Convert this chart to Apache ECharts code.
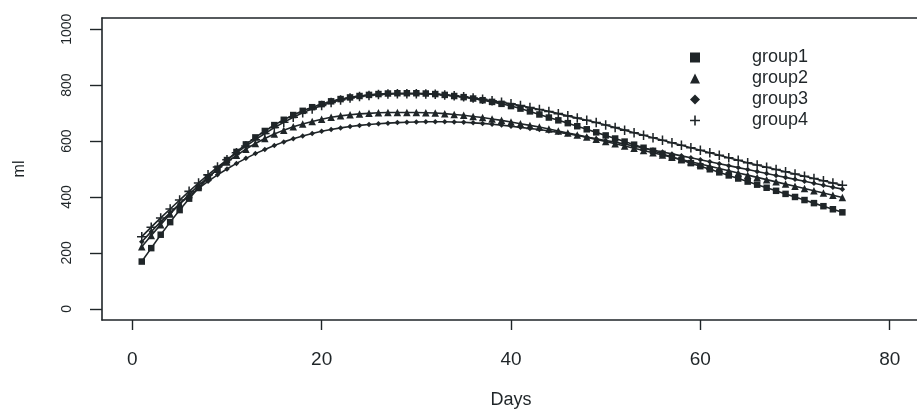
<!DOCTYPE html>
<html>
<head>
<meta charset="utf-8">
<script src="https://cdn.jsdelivr.net/npm/echarts@6/dist/echarts.min.js"></script>
<style>
html,body{margin:0;padding:0;background:#fff;}
#chart{width:917px;height:410px;}
</style>
</head>
<body>
<div id="chart"></div>
<script>
// ---- data ----
var days = [];
for (var d = 1; d <= 75; d++) days.push(d);
var group1 = [169,217,265,310,353,394,432,468,501,532,561,588,613,636,657,676,693,708,721,732,742,750,756,761,765,768,770,771,771,771,770,768,765,761,757,752,746,740,733,725,716,706,695,684,674,664,653,642,631,620,609,598,587,576,565,554,543,532,521,510,499,488,477,466,455,444,433,422,411,400,389,378,367,356,345];
var group2 = [222,262,301,339,375,409,441,471,499,525,549,571,591,609,625,639,651,661,670,678,685,690,694,697,699,701,702,702,702,702,701,700,698,695,692,688,684,679,674,668,662,656,650,643,636,629,622,614,606,598,590,582,574,566,558,550,542,534,526,518,510,502,494,486,478,470,462,454,446,438,430,422,414,406,398];
var group3 = [240,276,311,344,375,404,431,456,479,500,520,538,555,570,584,597,608,618,627,635,641,647,652,656,659,662,664,666,667,668,669,669,669,668,667,665,663,660,657,653,649,645,641,636,631,626,620,614,608,602,596,589,582,575,568,561,554,547,540,533,526,519,512,505,498,491,484,477,470,463,456,449,442,435,428];
var group4 = [258,292,325,357,389,420,450,479,507,533,558,582,605,627,648,667,685,701,715,727,738,747,754,759,763,766,768,769,769,769,768,767,765,762,758,754,749,744,739,733,727,720,713,706,698,690,682,674,666,657,648,639,630,621,612,603,594,585,576,567,558,549,540,531,522,514,506,498,490,482,474,466,458,450,442];
var groupNames = ['group1','group2','group3','group4'];
var xTicks = [0,20,40,60,80];
var yTicks = [0,200,400,600,800,1000];

var ink = '#1f2528';
var plusPath = 'path://M4.2,0H5.8V4.2H10V5.8H5.8V10H4.2V5.8H0V4.2H4.2Z';
var symbols = ['rect','triangle','diamond', plusPath];
var sizes = [6.5,7.5,5.5,9.5];
var values = [group1, group2, group3, group4];

function pairs(vals){ return days.map(function(x,i){ return [x, vals[i]]; }); }

var series = groupNames.map(function(n, i){
  return {
    name: n, type: 'line',
    xAxisIndex: 0, yAxisIndex: 0,
    data: pairs(values[i]),
    symbol: symbols[i], symbolSize: sizes[i],
    showSymbol: true,
    lineStyle: {color: ink, width: 1.6},
    itemStyle: {color: ink},
    z: 2 + i
  };
});

var chart = echarts.init(document.getElementById('chart'), null, {renderer:'canvas'});
chart.setOption({
  animation: false,
  backgroundColor: '#fff',
  grid: {left: 102, width: 818, top: 18, bottom: 90, outerBoundsMode: 'none', containLabel: false, show: false},
  xAxis: [{
    type: 'value', min: -3.2, max: 83.2, position: 'bottom',
    name: 'Days', nameLocation: 'middle', nameGap: 71,
    nameTextStyle: {fontFamily: 'Liberation Sans', fontSize: 18, color: ink},
    axisLine: {show: true, onZero: false, lineStyle: {color: ink, width: 1.6}},
    splitLine: {show: false},
    axisTick: {show: true, inside: false, length: 10, customValues: xTicks, lineStyle: {color: ink, width: 1.4}},
    axisLabel: {customValues: xTicks, margin: 30, fontFamily: 'Liberation Sans', fontSize: 19, color: ink}
  }, {
    type: 'value', min: -3.2, max: 83.2, position: 'top',
    axisLine: {show: true, onZero: false, lineStyle: {color: ink, width: 1.6}},
    axisTick: {show: false}, axisLabel: {show: false}, splitLine: {show: false}
  }],
  yAxis: {
    type: 'value', min: -40, max: 1040, position: 'left',
    name: 'ml', nameLocation: 'middle', nameGap: 74, nameRotate: 90,
    nameTextStyle: {fontFamily: 'Liberation Sans', fontSize: 16, color: ink},
    axisLine: {show: true, onZero: false, lineStyle: {color: ink, width: 1.6}},
    splitLine: {show: false},
    axisTick: {show: true, inside: false, length: 12, customValues: yTicks, lineStyle: {color: ink, width: 1.4}},
    axisLabel: {customValues: yTicks, rotate: 90, margin: 28, fontFamily: 'Liberation Sans', fontSize: 14, color: ink,
      formatter: function(v){ return String(v); }}
  },
  legend: {
    orient: 'vertical', left: 685, top: 42,
    itemWidth: 10, itemHeight: 10, itemGap: 0,
    data: groupNames.map(function(n, i){ return {name: n, icon: symbols[i]}; }),
    textStyle: {fontFamily: 'Liberation Sans', fontSize: 18, color: ink, lineHeight: 21, padding: [0,0,0,47]},
    itemStyle: {color: ink, borderWidth: 0},
    lineStyle: {width: 0, opacity: 0},
    selectedMode: false
  },
  series: series
});
</script>
</body>
</html>
